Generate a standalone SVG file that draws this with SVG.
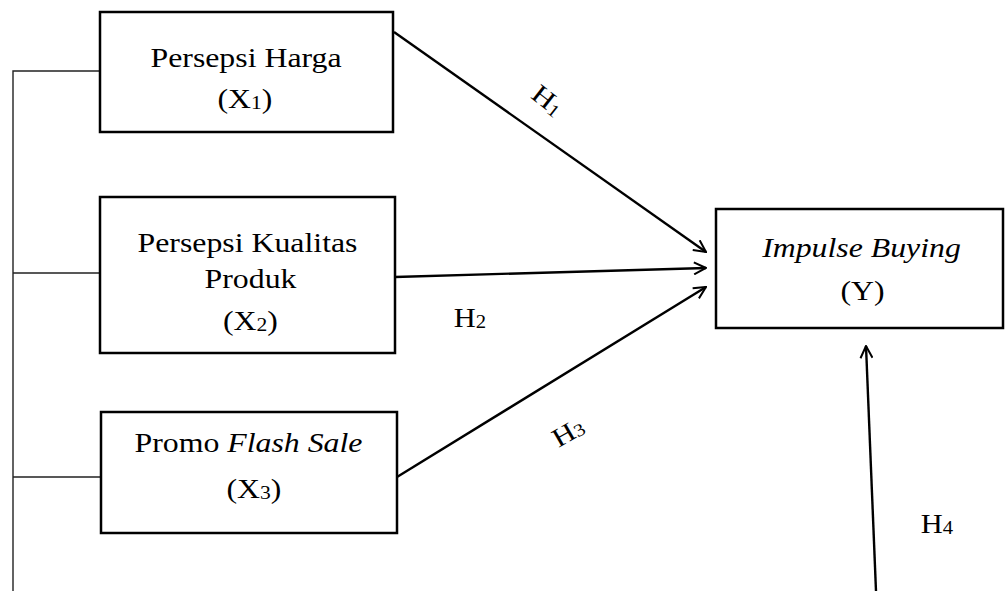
<svg xmlns="http://www.w3.org/2000/svg" width="1005" height="591" viewBox="0 0 1005 591">
<style>
.box{fill:#fff;stroke:#000;stroke-width:2.5}
.t{font-family:"Liberation Serif","Times New Roman",serif;font-size:26.5px;fill:#000;text-anchor:middle}
.it{font-style:italic}
.sub{font-size:18px}
.arr{fill:none;stroke:#000;stroke-width:2.4;marker-end:url(#ah)}
.thin{fill:none;stroke:#222;stroke-width:1.4}
</style>
<defs>
<marker id="ah" viewBox="0 0 14 14" refX="13" refY="7" markerWidth="14" markerHeight="14" markerUnits="userSpaceOnUse" orient="auto">
<path d="M1,1 L13,7 L1,13" fill="none" stroke="#000" stroke-width="2"/>
</marker>
</defs>
<g id="connectors">
<path class="thin" d="M13,591 V71 H100 M13,273 H100 M13,477 H101"/>
<line class="arr" x1="394" y1="32" x2="706" y2="252"/>
<line class="arr" x1="395" y1="277" x2="706" y2="268"/>
<line class="arr" x1="397" y1="477" x2="706" y2="287"/>
<line class="arr" x1="876" y1="591" x2="866" y2="346"/>
<text class="t" transform="translate(548,100) rotate(38) scale(1.15,1)" y="9">H<tspan class="sub" dy="2">1</tspan></text>
<text class="t" transform="translate(470,327) scale(1.15,1)">H<tspan class="sub" dy="1">2</tspan></text>
<text class="t" transform="translate(568,432) rotate(-30) scale(1.15,1)" y="9">H<tspan class="sub" dy="1">3</tspan></text>
<text class="t" transform="translate(937,533) scale(1.15,1)">H<tspan class="sub" dy="1">4</tspan></text>
</g>
<g id="x1">
<rect class="box" x="100" y="12" width="293" height="120"/>
<text class="t" transform="translate(246,67) scale(1.2,1)">Persepsi Harga</text>
<text class="t" transform="translate(245,108) scale(1.2,1)">(X<tspan class="sub" dy="1">1</tspan><tspan dy="-1">)</tspan></text>
</g>
<g id="x2">
<rect class="box" x="100" y="197" width="295" height="156"/>
<text class="t" transform="translate(247.5,252) scale(1.2,1)">Persepsi Kualitas</text>
<text class="t" transform="translate(250.5,288) scale(1.2,1)">Produk</text>
<text class="t" transform="translate(250.5,330) scale(1.2,1)">(X<tspan class="sub" dy="1">2</tspan><tspan dy="-1">)</tspan></text>
</g>
<g id="x3">
<rect class="box" x="101" y="412" width="296" height="121"/>
<text class="t" transform="translate(248.5,452) scale(1.2,1)">Promo <tspan class="it">Flash Sale</tspan></text>
<text class="t" transform="translate(254,498) scale(1.2,1)">(X<tspan class="sub" dy="1">3</tspan><tspan dy="-1">)</tspan></text>
</g>
<g id="y">
<rect class="box" x="716" y="209" width="287" height="119"/>
<text class="t it" transform="translate(861.5,257) scale(1.2,1)">Impulse Buying</text>
<text class="t" transform="translate(862.5,300) scale(1.2,1)">(Y)</text>
</g>
</svg>
